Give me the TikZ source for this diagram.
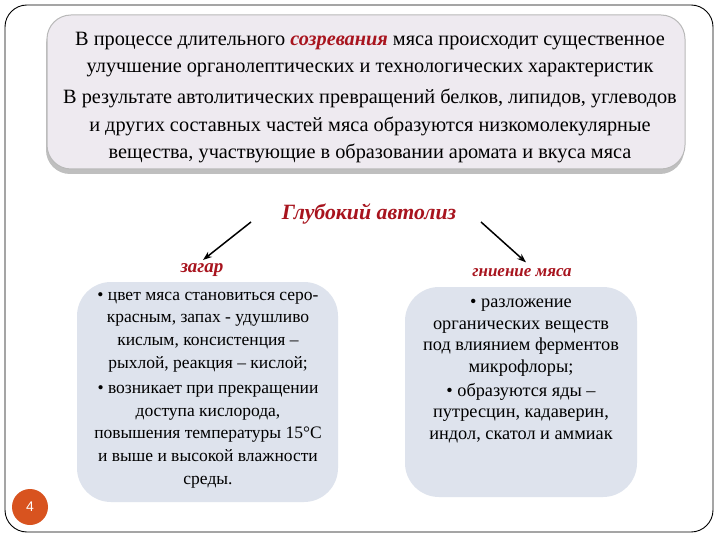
\documentclass[tikz,border=0pt]{standalone}
\usepackage{fontspec}
\setmainfont{Liberation Serif}
\setsansfont{Liberation Sans}
\newfontfamily\tnr{Liberation Serif}
\usetikzlibrary{arrows.meta,shadows}
\definecolor{darkred}{HTML}{A8141E}
\definecolor{topfill}{HTML}{EEEAF0}
\definecolor{boxfill}{HTML}{DEE3ED}
\definecolor{numcol}{HTML}{D8531F}
\tikzset{
  para/.style={align=center, inner sep=0pt},
  redtitle/.style={text=darkred, font=\bfseries\itshape},
  softbox/.style={fill=boxfill, draw=none, rounded corners=34pt, inner sep=0pt},
  arr/.style={-{Stealth[length=9pt,width=6.5pt]}, line width=1.5pt}
}
\begin{document}
\begin{tikzpicture}[x=1pt,y=-1pt]
\useasboundingbox (0,0) rectangle (720,540);
\fill[white] (0,0) rectangle (720,540);
% outer frame
\draw[line width=0.9pt, rounded corners=22pt] (5,5) rectangle (713,532);
% top box
\node[draw=gray!55, line width=1pt, fill=topfill, rounded corners=24pt,
      minimum width=638pt, minimum height=154pt, inner sep=0pt,
      drop shadow={shadow xshift=-1pt, shadow yshift=-5pt, opacity=0.5}]
      (top) at (366,92) {};
\node[para, font=\tnr\fontsize{20.3}{27}\selectfont] (p1) at (370,55)
  {В процессе длительного \textcolor{darkred}{\bfseries\itshape созревания} мяса происходит существенное\\
   улучшение органолептических и технологических характеристик};
\node[para, font=\tnr\fontsize{20.3}{27.5}\selectfont] (p2) at (370,126)
  {В результате автолитических превращений белков, липидов, углеводов\\
   и других составных частей мяса образуются низкомолекулярные\\
   вещества, участвующие в образовании аромата и вкуса мяса};
% title
\node[redtitle, font=\tnr\fontsize{21.8}{26}\bfseries\itshape\selectfont] (title) at (369,214) {Глубокий автолиз};
\node[redtitle, font=\tnr\fontsize{19}{22}\bfseries\itshape\selectfont] (zagar) at (202,270) {загар};
\node[redtitle, font=\tnr\fontsize{17}{20}\bfseries\itshape\selectfont] (gnil) at (522,273) {гниение мяса};
\coordinate (a1s) at (251,222);
\coordinate (a2s) at (481,222);
\draw[arr] (a1s) -- ([xshift=1pt,yshift=0pt]zagar.north);
\draw[arr] (a2s) -- ([xshift=4pt,yshift=3pt]gnil.north);
% left box
\node[softbox, minimum width=261pt, minimum height=220pt] (lbox) at (207.5,392) {};
\node[para, font=\tnr\fontsize{17.5}{22.6}\selectfont] (ltext) at (208,390) 
  {\textbullet{} цвет мяса становиться серо-\\
   красным, запах - удушливо\\
   кислым, консистенция –\\
   рыхлой, реакция – кислой;\\[3pt]
   \textbullet{} возникает при прекращении\\
   доступа кислорода,\\
   повышения температуры 15°С\\
   и выше и высокой влажности\\
   среды.};
% right box
\node[softbox, minimum width=232pt, minimum height=210pt] (rbox) at (521,392) {};
\node[para, font=\tnr\fontsize{18.3}{21.8}\selectfont] (rtext) at (521,371)
  {\textbullet{} разложение\\
   органических веществ\\
   под влиянием ферментов\\
   микрофлоры;\\[1.5pt]
   \textbullet{} образуются яды –\\
   путресцин, кадаверин,\\
   индол, скатол и аммиак};
% page number
\node[circle, fill=numcol, minimum size=36pt, inner sep=0pt, text=white,
      font=\sffamily\fontsize{14}{16}\selectfont] (num) at (30,507) {4};
\end{tikzpicture}
\end{document}
